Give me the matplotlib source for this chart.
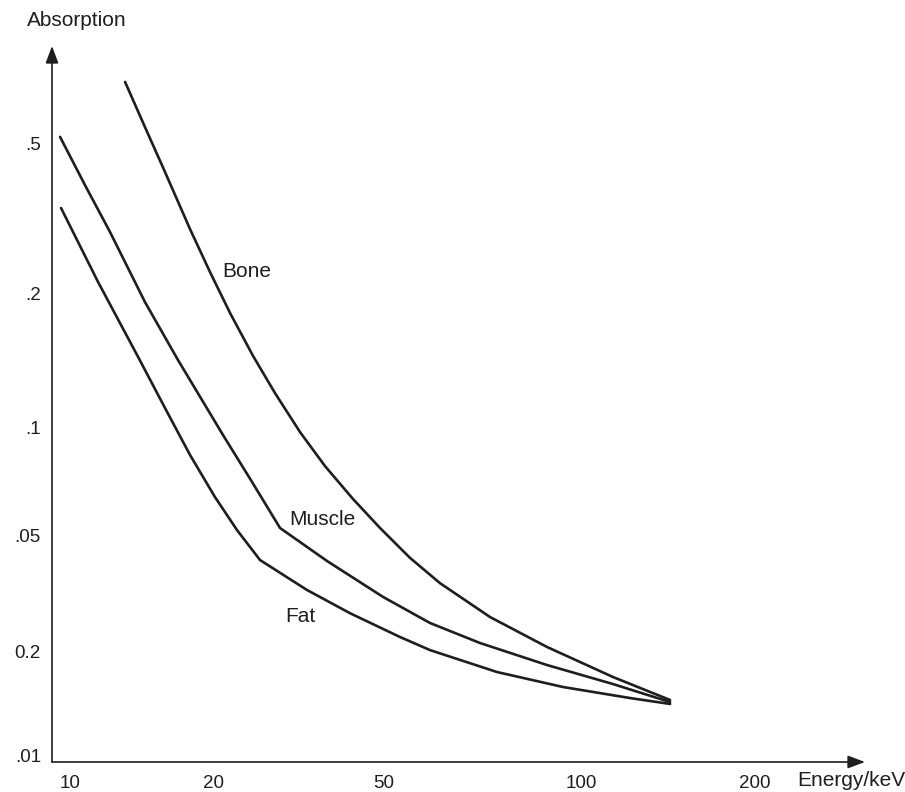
import numpy as np
import matplotlib
import matplotlib.pyplot as plt

"""
Absorption vs photon energy for bone, muscle and fat.
Redrawn from a textbook sketch - the axis ticks are not evenly spaced
in the original, so a piecewise log scale is used to keep them where they were.
"""

matplotlib.use('Agg')

# tick values (as printed in the figure)
x_ticks = [10, 20, 50, 100, 200]
x_tick_labels = ['10', '20', '50', '100', '200']
y_ticks = [0.01, 0.02, 0.05, 0.1, 0.2, 0.5]
y_tick_labels = ['.01', '0.2', '.05', '.1', '.2', '.5']   # "0.2" is a misprint in the original

# curves: energy (keV) and absorption
bone_E = [13.06, 14.38, 15.85, 17.89, 19.71, 21.91, 24.79, 27.88, 31.88, 36.45, 42.35, 48.95, 54.79,
          60.88, 72.61, 88.74, 113.6, 142.6]
bone_A = [0.726, 0.5513, 0.4188, 0.2956, 0.2274, 0.1804, 0.1444, 0.1192, 0.0968, 0.0778, 0.0630, 0.0523, 0.0418,
          0.0343, 0.0263, 0.0208, 0.0169, 0.01448]

muscle_E = [9.53, 10.75, 12.14, 14.38, 16.88, 21.10, 24.65, 28.64, 36.84, 49.72, 58.79, 70.09, 88.74, 113.6, 142.6]
muscle_A = [0.519, 0.3869, 0.2903, 0.1909, 0.1414, 0.0950, 0.0703, 0.0523, 0.0408, 0.0308, 0.0251, 0.02146,
            0.01832, 0.01612, 0.01428]

fat_E = [9.575, 11.46, 13.91, 15.85, 17.89, 20.21, 22.75, 25.73, 33.10, 41.68, 52.9, 58.79, 74.4, 93.9, 121.6, 142.6]
fat_A = [0.3361, 0.2138, 0.1437, 0.1103, 0.0836, 0.0638, 0.0516, 0.0411, 0.0325, 0.0271, 0.02249, 0.0203,
         0.01748, 0.0158, 0.01467, 0.01410]

# where the curve names sit (energy, absorption)
labels = {'Bone': (24.0, 0.2274), 'Muscle': (35.9, 0.0551), 'Fat': (31.9, 0.0265)}

# layout: pixel positions of the printed ticks (figure is 905 x 792 px)
W, H = 905, 792
x_tick_pos = [70, 213, 384, 581, 755]
y_tick_pos = [H - p for p in [755, 652, 535, 427, 293, 143]]
origin = (52, 762)
x_end, y_end = 865, 46

INK = '#1e1e1e'
plt.rcParams['font.family'] = ['Liberation Sans', 'DejaVu Sans']


# linear interpolation that keeps going past the ends
def lerp(x, xp, fp):
    x = np.asarray(x, dtype=float)
    xp = np.asarray(xp, dtype=float)
    fp = np.asarray(fp, dtype=float)
    y = np.interp(x, xp, fp)
    lo_slope = (fp[1] - fp[0]) / (xp[1] - xp[0])
    hi_slope = (fp[-1] - fp[-2]) / (xp[-1] - xp[-2])
    y = np.where(x < xp[0], fp[0] + (x - xp[0]) * lo_slope, y)
    y = np.where(x > xp[-1], fp[-1] + (x - xp[-1]) * hi_slope, y)
    return y


# piecewise log scale through the printed tick positions
def makeScale(vals, pos):
    lv = np.log10(vals)

    def fwd(v):
        v = np.clip(np.asarray(v, dtype=float), 1e-12, None)
        return lerp(np.log10(v), lv, pos)

    def inv(p):
        return 10 ** lerp(p, pos, lv)
    return fwd, inv


def plotData():
    fig = plt.figure(figsize=(W / 100, H / 100), dpi=100)
    left = origin[0] / W
    bottom = 1 - origin[1] / H
    ax = fig.add_axes([left, bottom, (x_end - origin[0]) / W, (origin[1] - y_end) / H])

    fx, ix = makeScale(x_ticks, x_tick_pos)
    fy, iy = makeScale(y_ticks, y_tick_pos)
    ax.set_xscale('function', functions=(fx, ix))
    ax.set_yscale('function', functions=(fy, iy))
    ax.set_xlim(ix(origin[0]), ix(x_end))
    ax.set_ylim(iy(H - origin[1]), iy(H - y_end))

    for E, A in [(bone_E, bone_A), (muscle_E, muscle_A), (fat_E, fat_A)]:
        ax.plot(E, A, color=INK, lw=1.9, solid_joinstyle='round', solid_capstyle='round')

    for name, (e, a) in labels.items():
        ax.text(e, a, name, fontsize=15, color=INK, ha='center', va='center')

    ax.set_xticks(x_ticks, x_tick_labels)
    ax.set_yticks(y_ticks, y_tick_labels)
    ax.minorticks_off()
    ax.tick_params(axis='x', length=0, pad=9.5, labelsize=13.5, labelcolor=INK)
    ax.tick_params(axis='y', length=0, pad=8, labelsize=13.5, labelcolor=INK)

    # axes drawn as arrows instead of spines
    for s in ax.spines.values():
        s.set_visible(False)
    arrow = dict(arrowstyle='-|>,head_length=0.8,head_width=0.3', color=INK, lw=1.2,
                 shrinkA=0, shrinkB=0, mutation_scale=13)
    ax.annotate('', xy=(0, 1), xytext=(0, 0), xycoords='axes fraction', arrowprops=arrow)
    ax.annotate('', xy=(1, 0), xytext=(0, 0), xycoords='axes fraction', arrowprops=arrow)

    fig.text(27 / W, 1 - 21 / H, 'Absorption', fontsize=15, color=INK, ha='left', va='center')
    fig.text(797 / W, 1 - 781 / H, 'Energy/keV', fontsize=15, color=INK, ha='left', va='center')

    fig.savefig('out.png', dpi=100)


if __name__ == "__main__":
    plotData()
